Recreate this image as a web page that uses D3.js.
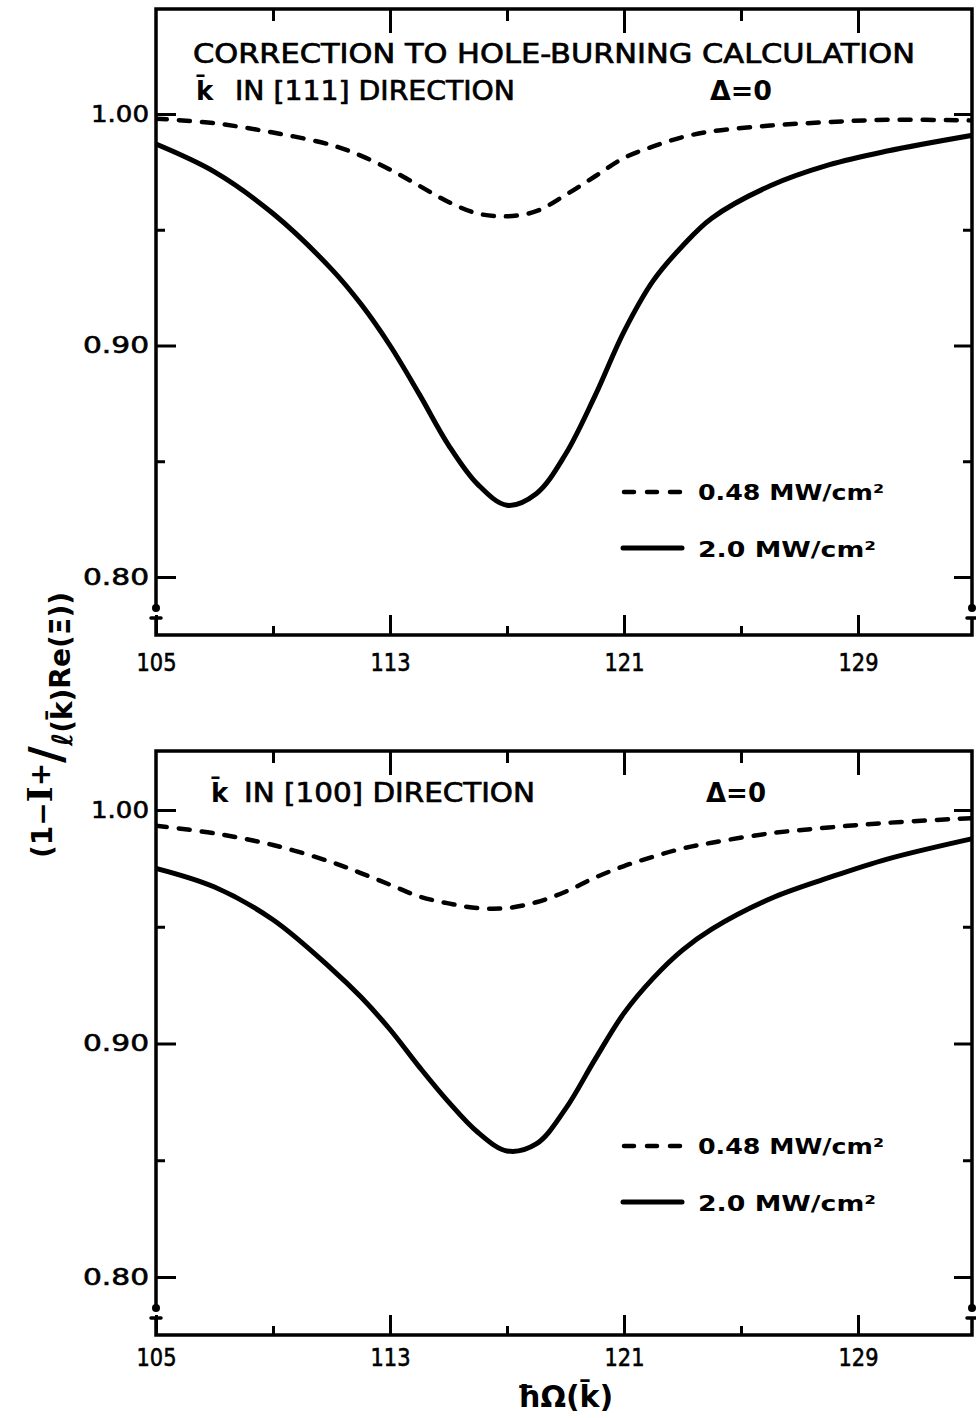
<!DOCTYPE html>
<html><head><meta charset="utf-8">
<script src="https://cdn.jsdelivr.net/npm/d3@7"></script>
<style>
body{margin:0;background:#fff;}
svg{display:block;}
text{font-family:"DejaVu Sans",sans-serif;fill:#000;}
</style>
</head><body>
<script>
// ---------------- data ----------------
const xGrid = [105,107,109,111,112,113,114,115,116,117,118,119,120,121,122,123,124,126,128,130,133];
// top panel: k in [111] direction
const top048 = [0.998,0.996,0.992,0.9866,0.982,0.976,0.969,0.962,0.957,0.9558,0.958,0.965,0.973,0.981,0.986,0.990,0.9925,0.995,0.9965,0.9975,0.9972];
const top20  = [0.987,0.975,0.957,0.933,0.918,0.900,0.879,0.857,0.840,0.831,0.836,0.853,0.878,0.906,0.928,0.943,0.955,0.969,0.978,0.984,0.991];
// bottom panel: k in [100] direction
const bot048 = [0.9933,0.990,0.985,0.9777,0.973,0.968,0.963,0.960,0.958,0.958,0.9605,0.965,0.971,0.976,0.980,0.9835,0.986,0.990,0.9925,0.9945,0.9966];
const bot20  = [0.975,0.967,0.953,0.932,0.920,0.906,0.890,0.875,0.862,0.854,0.857,0.872,0.893,0.913,0.928,0.940,0.949,0.962,0.971,0.979,0.988];

const xMajorTicks = [105,113,121,129];
const xMinorTicks = [109,117,125];
const xTickLabels = ["105","113","121","129"];
const yMajorTicks = [0.80,0.90,1.00];
const yMinorTicks = [0.85,0.95];
const yTickLabels = ["0.80","0.90","1.00"];
const seriesNames = ["0.48 MW/cm²","2.0 MW/cm²"];
const topTitle1 = "CORRECTION TO HOLE-BURNING CALCULATION";
const topTitle2 = "IN [111] DIRECTION";
const botTitle2 = "IN [100] DIRECTION";
const deltaText = "Δ=0";

// ---------------- layout ----------------
const W=976, H=1418;
const svg = d3.select("body").append("svg").attr("width",W).attr("height",H);
const x = d3.scaleLinear().domain([105,129]).range([156,858]);
const xLeft = x(105), xRight = 972;

const panels = [
  {id:"p1", top:9, bottom:635, y:d3.scaleLinear().domain([0.80,1.00]).range([577,114]),
   s048:top048, s20:top20, legY:[492,548], xLabY:663,
   l2x:235, l2len:280, l2y:100, kx:196, dx:710, dlen:62, title1:true},
  {id:"p2", top:751, bottom:1335, y:d3.scaleLinear().domain([0.80,1.00]).range([1277,810]),
   s048:bot048, s20:bot20, legY:[1146,1202], xLabY:1358,
   l2x:244, l2len:291, l2y:802, kx:211, dx:706, dlen:60, title1:false}
];

panels.forEach(p=>{
  const g = svg.append("g");
  const y = p.y;
  svg.append("clipPath").attr("id","clip-"+p.id).append("rect")
    .attr("x",xLeft).attr("y",p.top).attr("width",xRight-xLeft).attr("height",p.bottom-p.top);

  // axes (ticks inward)
  const bAx = g.append("g").attr("transform",`translate(0,${p.bottom})`)
    .call(d3.axisBottom(x).tickValues(xMajorTicks).tickSize(-20).tickPadding(0).tickFormat((d,i)=>xTickLabels[i]));
  bAx.selectAll("text").attr("y", p.xLabY - p.bottom).attr("dy","0.35em")
     .style("font-size","24px").attr("stroke","#000").attr("stroke-width",0.6)
     .attr("textLength",40).attr("lengthAdjust","spacingAndGlyphs");
  g.append("g").attr("transform",`translate(0,${p.bottom})`)
    .call(d3.axisBottom(x).tickValues(xMinorTicks).tickSize(-9).tickFormat(""));
  g.append("g").attr("transform",`translate(0,${p.top})`)
    .call(d3.axisTop(x).tickValues(xMajorTicks.slice(1)).tickSize(-24).tickFormat(""));
  g.append("g").attr("transform",`translate(0,${p.top})`)
    .call(d3.axisTop(x).tickValues(xMinorTicks).tickSize(-12).tickFormat(""));
  const lAx = g.append("g").attr("transform",`translate(${xLeft},0)`)
    .call(d3.axisLeft(y).tickValues(yMajorTicks).tickSize(-20).tickPadding(6).tickFormat((d,i)=>yTickLabels[i]));
  lAx.selectAll("text").attr("x",-7).style("font-size","23px").attr("stroke","#000").attr("stroke-width",0.6)
     .attr("textLength",(d)=> d>=1 ? 58 : 66).attr("lengthAdjust","spacingAndGlyphs");
  g.append("g").attr("transform",`translate(${xLeft},0)`)
    .call(d3.axisLeft(y).tickValues(yMinorTicks).tickSize(-9).tickFormat(""));
  g.append("g").attr("transform",`translate(${xRight},0)`)
    .call(d3.axisRight(y).tickValues(yMajorTicks).tickSize(-18).tickFormat(""));
  g.append("g").attr("transform",`translate(${xRight},0)`)
    .call(d3.axisRight(y).tickValues(yMinorTicks).tickSize(-9).tickFormat(""));
  g.selectAll(".domain").remove();
  g.selectAll(".tick line").attr("stroke","#000").attr("stroke-width",3);

  // frame with axis breaks near the bottom corners
  const fr = g.append("g").attr("fill","none").attr("stroke","#000").attr("stroke-linecap","round");
  fr.append("path").attr("d",`M${xLeft},${p.bottom-27} L${xLeft},${p.top} L${xRight},${p.top} L${xRight},${p.bottom-27}`)
    .attr("stroke-width",3.5);
  fr.append("path").attr("d",`M${xLeft-5},${p.bottom-17} L${xLeft+5},${p.bottom-17} M${xLeft},${p.bottom-17} L${xLeft},${p.bottom} L${xRight},${p.bottom} L${xRight},${p.bottom-17} M${xRight-5},${p.bottom-17} L${xRight+5},${p.bottom-17}`)
    .attr("stroke-width",3.5);
  g.append("circle").attr("cx",xLeft).attr("cy",p.bottom-27).attr("r",4);
  g.append("circle").attr("cx",xRight).attr("cy",p.bottom-27).attr("r",4);

  // curves
  const line = d3.line().x((d,i)=>x(xGrid[i])).y(d=>y(d)).curve(d3.curveCatmullRom.alpha(0.5));
  const cg = g.append("g").attr("clip-path",`url(#clip-${p.id})`);
  cg.append("path").datum(p.s048).attr("d",line).attr("fill","none").attr("stroke","#000")
    .attr("stroke-width",4.5).attr("stroke-dasharray","11,12").attr("stroke-linecap","round");
  cg.append("path").datum(p.s20).attr("d",line).attr("fill","none").attr("stroke","#000")
    .attr("stroke-width",5).attr("stroke-linecap","round");

  // legend
  const lg = g.append("g");
  lg.append("line").attr("x1",624).attr("x2",682).attr("y1",p.legY[0]).attr("y2",p.legY[0])
    .attr("stroke","#000").attr("stroke-width",4.5).attr("stroke-dasharray","10,13").attr("stroke-linecap","round");
  lg.append("line").attr("x1",623).attr("x2",682).attr("y1",p.legY[1]).attr("y2",p.legY[1])
    .attr("stroke","#000").attr("stroke-width",5).attr("stroke-linecap","round");
  lg.append("text").attr("x",698).attr("y",p.legY[0]+8).text(seriesNames[0])
    .style("font-size","21px").style("font-weight","bold").attr("textLength",186).attr("lengthAdjust","spacingAndGlyphs");
  lg.append("text").attr("x",698).attr("y",p.legY[1]+9).text(seriesNames[1])
    .style("font-size","21px").style("font-weight","bold").attr("textLength",178).attr("lengthAdjust","spacingAndGlyphs");

  // panel titles
  if (p.title1) {
    g.append("text").attr("x",193).attr("y",63).text(topTitle1)
      .style("font-size","26px").attr("stroke","#000").attr("stroke-width",0.7)
      .attr("textLength",722).attr("lengthAdjust","spacingAndGlyphs");
  }
  g.append("text").attr("x",p.kx).attr("y",p.l2y).text("k\u0304")
    .style("font-size","26px").style("font-weight","bold");
  g.append("text").attr("x",p.l2x).attr("y",p.l2y).text(p.title1?topTitle2:botTitle2)
    .style("font-size","26px").attr("stroke","#000").attr("stroke-width",0.7)
    .attr("textLength",p.l2len).attr("lengthAdjust","spacingAndGlyphs");
  g.append("text").attr("x",p.dx).attr("y",p.l2y).text(deltaText)
    .style("font-size","26px").style("font-weight","bold")
    .attr("textLength",p.dlen).attr("lengthAdjust","spacingAndGlyphs");
});

// y-axis title (rotated)
const yt = svg.append("text").attr("transform","translate(52,725) rotate(-90)")
  .attr("text-anchor","middle").style("font-size","28px").style("font-weight","bold");
yt.append("tspan").text("(1−");
yt.append("tspan").text("I").style("font-size","34px").attr("font-family","DejaVu Serif");
yt.append("tspan").text("+").attr("dy",-2);
yt.append("tspan").text("/").style("font-size","46px").attr("dy",12);
yt.append("tspan").text("ℓ(k\u0304)").attr("dy",10);
yt.append("tspan").text("Re(Ξ))").attr("dy",-2);

// x-axis title
svg.append("text").attr("x",565).attr("y",1407).attr("text-anchor","middle")
  .style("font-size","30px").style("font-weight","bold").text("ħΩ(k\u0304)");
</script>
</body></html>
